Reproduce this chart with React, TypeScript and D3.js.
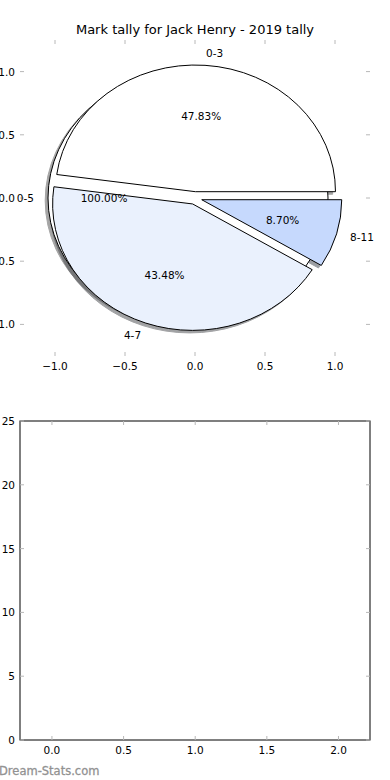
import React from "react";
import * as d3 from "d3";

const labels = ["0-3", "0-5", "4-7", "8-11"];
const counts = [11, 0, 10, 2];
const colors = ["#ffffff", "#ffffff", "#eaf1fd", "#c6d9fd"];
const pieTicks = [-1, -0.5, 0, 0.5, 1];
const barXTicks = [0, 0.5, 1, 1.5, 2];
const barYTicks = [0, 5, 10, 15, 20, 25];
const title = "Mark tally for Jack Henry - 2019 tally";

const W = 390;
const H = 780;
const explode = 0.05;
const tickColor = "#b8b8b8";
const font = "DejaVu Sans, sans-serif";
const fs = 10.5;

const fmt = (v: number) => (v < 0 ? "\u2212" : "") + Math.abs(v).toFixed(1);

const App = () => {
  const xPie = d3.scaleLinear().domain([-1.25, 1.25]).range([20, 370]);
  const yPie = d3.scaleLinear().domain([-1.25, 1.25]).range([356, 40]);
  const sx = xPie(1) - xPie(0);
  const sy = yPie(0) - yPie(1);

  const xBar = d3.scaleLinear().domain([-0.223, 2.22]).range([20, 370]);
  const yBar = d3.scaleLinear().domain([0, 25]).range([740, 421]);

  // angles like matplotlib: counterclockwise from 3 o'clock
  const total = d3.sum(counts);
  let acc = 0;
  const slices = counts.map((c, i) => {
    let t1 = (acc / total) * 2 * Math.PI;
    let t2 = ((acc + c) / total) * 2 * Math.PI;
    acc += c;
    if (c === 0) {
      // zero wedge renders as a full circle
      t1 = 0;
      t2 = 2 * Math.PI;
    }
    const mid = (t1 + t2) / 2;
    return {
      label: labels[i],
      color: colors[i],
      t1,
      t2,
      mid,
      pct: ((t2 - t1) / (2 * Math.PI)) * 100,
      ex: explode * Math.cos(mid),
      ey: explode * Math.sin(mid),
      zero: c === 0,
    };
  });
  const order = [...slices.filter((s) => s.zero), ...slices.filter((s) => !s.zero)];

  const arc = d3.arc<any>().innerRadius(0).outerRadius(1);
  const wedgePath = (s: any) =>
    arc({ startAngle: Math.PI / 2 - s.t1, endAngle: Math.PI / 2 - s.t2 }) as string;

  const shade = (c: string) => {
    const r = d3.rgb(c);
    return d3.rgb(r.r * 0.3, r.g * 0.3, r.b * 0.3).toString();
  };

  return (
    <svg width={W} height={H} style={{ position: "absolute", left: 0, top: 0, background: "#fff" }} fontFamily={font}>
      <text x={195} y={34} textAnchor="middle" fontSize={13} fill="#000">
        {title}
      </text>

      {/* pie axes ticks */}
      {pieTicks.map((t) => (
        <g key={"px" + t}>
          <line x1={xPie(t)} x2={xPie(t)} y1={356} y2={352} stroke={tickColor} />
          <line x1={xPie(t)} x2={xPie(t)} y1={40} y2={44} stroke={tickColor} />
          <text x={xPie(t)} y={366} textAnchor="middle" dominantBaseline="central" fontSize={fs}>
            {fmt(t)}
          </text>
          <line x1={20} x2={24} y1={yPie(t)} y2={yPie(t)} stroke={tickColor} />
          <line x1={370} x2={366} y1={yPie(t)} y2={yPie(t)} stroke={tickColor} />
          <text x={15} y={yPie(t)} textAnchor="end" dominantBaseline="central" fontSize={fs}>
            {fmt(t)}
          </text>
        </g>
      ))}

      {/* shadows */}
      {order.map((s) => (
        <path
          key={"sh" + s.label}
          d={wedgePath(s)}
          transform={`translate(${xPie(s.ex - 0.02)},${yPie(s.ey - 0.02)}) scale(${sx},${sy})`}
          fill={shade(s.color)}
          stroke={shade(s.color)}
          strokeWidth={1}
          vectorEffect="non-scaling-stroke"
          opacity={0.5}
        />
      ))}

      {/* wedges */}
      {order.map((s) => (
        <path
          key={"w" + s.label}
          d={wedgePath(s)}
          transform={`translate(${xPie(s.ex)},${yPie(s.ey)}) scale(${sx},${sy})`}
          fill={s.color}
          stroke="#000"
          strokeWidth={1}
          vectorEffect="non-scaling-stroke"
        />
      ))}

      {/* labels */}
      {order.map((s) => {
        const lx = s.ex + 1.1 * Math.cos(s.mid);
        const ly = s.ey + 1.1 * Math.sin(s.mid);
        const px = s.ex + 0.6 * Math.cos(s.mid);
        const py = s.ey + 0.6 * Math.sin(s.mid);
        return (
          <g key={"l" + s.label} fontSize={fs}>
            <text x={xPie(lx)} y={yPie(ly)} textAnchor={lx > 0 ? "start" : "end"} dominantBaseline="central">
              {s.label}
            </text>
            <text x={xPie(px)} y={yPie(py)} textAnchor="middle" dominantBaseline="central">
              {s.pct.toFixed(2) + "%"}
            </text>
          </g>
        );
      })}

      {/* bottom axes */}
      <rect x={20} y={421} width={350} height={319} fill="none" stroke="#000" strokeWidth={1} />
      {barXTicks.map((t) => (
        <g key={"bx" + t}>
          <line x1={xBar(t)} x2={xBar(t)} y1={740} y2={736} stroke={tickColor} />
          <line x1={xBar(t)} x2={xBar(t)} y1={421} y2={425} stroke={tickColor} />
          <text x={xBar(t)} y={750} textAnchor="middle" dominantBaseline="central" fontSize={fs}>
            {t.toFixed(1)}
          </text>
        </g>
      ))}
      {barYTicks.map((t) => (
        <g key={"by" + t}>
          <line x1={20} x2={24} y1={yBar(t)} y2={yBar(t)} stroke={tickColor} />
          <line x1={370} x2={366} y1={yBar(t)} y2={yBar(t)} stroke={tickColor} />
          <text x={15} y={yBar(t)} textAnchor="end" dominantBaseline="central" fontSize={fs}>
            {t}
          </text>
        </g>
      ))}

      <text x={-1} y={775} fontSize={11.5} fill="#8c8c8c" stroke="#9a9a9a" strokeWidth={0.3}>
        Dream-Stats.com
      </text>
    </svg>
  );
};

export default App;
